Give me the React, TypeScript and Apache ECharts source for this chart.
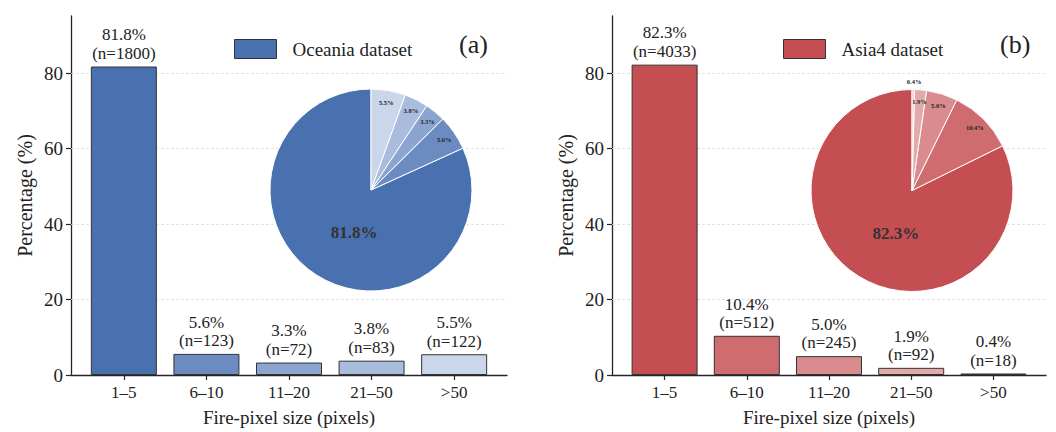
import React, { useEffect, useRef } from "react";
import * as echarts from "echarts";

const categories = ["1–5", "6–10", "11–20", "21–50", ">50"];
const oceaniaPct = [81.8, 5.6, 3.3, 3.8, 5.5];
const oceaniaN = [1800, 123, 72, 83, 122];
const asiaPct = [82.3, 10.4, 5.0, 1.9, 0.4];
const asiaN = [4033, 512, 245, 92, 18];
const yTicks = [0, 20, 40, 60, 80];
const gridValues = [20, 40, 60, 80];
const panelLetters = ["(a)", "(b)"];
const datasetNames = ["Oceania dataset", "Asia4 dataset"];

const bluePalette = ["#4a71af", "#6b8bc1", "#8ba4d0", "#aabcdd", "#cad6ea"];
const redPalette = ["#c44e52", "#ce6c6f", "#d98b8d", "#e3aaac", "#eec9ca"];

const FONT = "'Liberation Serif', 'Times New Roman', serif";
const AX = "#262626";

export default function App() {
  const ref = useRef<HTMLDivElement>(null);
  useEffect(() => {
    if (!ref.current) return;
    const chart = echarts.init(ref.current, null, { renderer: "svg" });
    const tickIdx = categories.map((_, i) => i);

    const grids = [
      { left: 71, top: 16, width: 436, height: 363 },
      { left: 612, top: 16, width: 434, height: 363 },
    ];

    const xAxes = grids.map((_, gi) => ({
      type: "value",
      gridIndex: gi,
      min: -0.64,
      max: 4.64,
      axisLine: { show: true, onZero: false, lineStyle: { color: AX, width: 1.3 } },
      axisTick: { show: true, customValues: tickIdx, length: 5, lineStyle: { color: AX, width: 1.2 } },
      axisLabel: {
        customValues: tickIdx,
        formatter: (v: number) => categories[Math.round(v)] ?? "",
        fontFamily: FONT,
        fontSize: 17,
        color: "#222",
        margin: 9,
      },
      splitLine: { show: false },
      name: "Fire-pixel size (pixels)",
      nameLocation: "middle",
      nameGap: 33,
      nameTextStyle: { fontFamily: FONT, fontSize: 19, color: "#222" },
    }));

    const yAxes = grids.map((_, gi) => ({
      type: "value",
      gridIndex: gi,
      min: 0,
      max: 95.2,
      axisLine: { show: true, onZero: false, lineStyle: { color: AX, width: 1.3 } },
      axisTick: { show: true, customValues: yTicks, length: 5, lineStyle: { color: AX, width: 1.2 } },
      axisLabel: {
        customValues: yTicks,
        fontFamily: FONT,
        fontSize: 19,
        color: "#222",
        margin: 8,
      },
      splitLine: { show: false },
      name: "Percentage (%)",
      nameLocation: "middle",
      nameGap: 36,
      nameTextStyle: { fontFamily: FONT, fontSize: 20, color: "#222" },
    }));

    const barSeries = (gi: number, pct: number[], ns: number[], pal: string[]) => ({
      type: "bar",
      name: datasetNames[gi],
      xAxisIndex: gi,
      yAxisIndex: gi,
      barWidth: 66,
      z: 3,
      itemStyle: { color: pal[0], borderColor: "#333", borderWidth: 1 },
      data: pct.map((v, i) => ({
        value: [i, v],
        itemStyle: { color: pal[i], borderColor: "#333", borderWidth: 1 },
      })),
      label: {
        show: true,
        position: "top",
        distance: 4,
        fontFamily: FONT,
        fontSize: 17,
        lineHeight: 18.5,
        color: "#222",
        formatter: (p: any) => `${pct[p.dataIndex].toFixed(1)}%\n(n=${ns[p.dataIndex]})`,
      },
      markLine: {
        silent: true,
        symbol: "none",
        z: 1,
        label: { show: false },
        lineStyle: { type: [3, 2], color: "#dcdcdc", width: 0.8 },
        data: gridValues.map((v) => ({ yAxis: v })),
      },
    });

    const pieMain = (center: number[], pct: number[], pal: string[]) => ({
      type: "pie",
      center,
      radius: 101,
      startAngle: 90,
      clockwise: false,
      z: 5,
      silent: true,
      data: pct.map((v, i) => ({
        value: v,
        name: categories[i],
        itemStyle: { color: pal[i], borderColor: "#fff", borderWidth: 1 },
        label: { show: i === 0 },
      })),
      label: {
        position: "inside",
        offset: [12, -2],
        fontFamily: FONT,
        fontSize: 17,
        fontWeight: "bold",
        color: "#333",
        formatter: (p: any) => `${pct[p.dataIndex].toFixed(1)}%`,
      },
      labelLine: { show: false },
    });

    const pieSmallLabels = (center: number[], pct: number[]) => ({
      type: "pie",
      center,
      radius: [72, 100],
      startAngle: 90,
      clockwise: false,
      z: 6,
      silent: true,
      data: pct.map((v, i) => ({
        value: v,
        name: categories[i],
        itemStyle: { color: "rgba(0,0,0,0)", borderWidth: 0 },
        label: {
          show: i !== 0,
          offset: v < 1 ? [1, -20] : [0, 0],
        },
      })),
      label: {
        position: "inside",
        fontFamily: FONT,
        fontSize: 6.5,
        fontWeight: "bold",
        color: "#222",
        formatter: (p: any) => `${pct[p.dataIndex].toFixed(1)}%`,
      },
      labelLine: { show: false },
    });

    const legendFor = (gi: number, left: number) => ({
      data: [datasetNames[gi]],
      left,
      top: 39,
      icon: "rect",
      itemWidth: 42,
      itemHeight: 19,
      itemStyle: { borderColor: "#333", borderWidth: 1 },
      textStyle: {
        fontFamily: FONT,
        fontSize: 19,
        color: "#222",
        padding: [0, 0, 0, 11],
      },
      selectedMode: false,
      padding: 0,
    });

    const letterStyle = { fontFamily: FONT, fontSize: 26, fontWeight: "normal", color: "#222" };

    chart.setOption({
      animation: false,
      backgroundColor: "#ffffff",
      textStyle: { fontFamily: FONT },
      grid: grids,
      xAxis: xAxes,
      yAxis: yAxes,
      legend: [legendFor(0, 234), legendFor(1, 783)],
      title: [
        { text: panelLetters[0], left: 459, top: 31, padding: 0, textStyle: letterStyle },
        { text: panelLetters[1], left: 1000, top: 31, padding: 0, textStyle: letterStyle },
      ],
      series: [
        barSeries(0, oceaniaPct, oceaniaN, bluePalette),
        barSeries(1, asiaPct, asiaN, redPalette),
        pieMain([371, 190], oceaniaPct, bluePalette),
        pieSmallLabels([371, 190], oceaniaPct),
        pieMain([912, 190.5], asiaPct, redPalette),
        pieSmallLabels([912, 190.5], asiaPct),
      ],
    });
    return () => chart.dispose();
  }, []);
  return (
    <div
      ref={ref}
      style={{ position: "fixed", left: 0, top: 0, width: 1056, height: 432, background: "#fff" }}
    />
  );
}
